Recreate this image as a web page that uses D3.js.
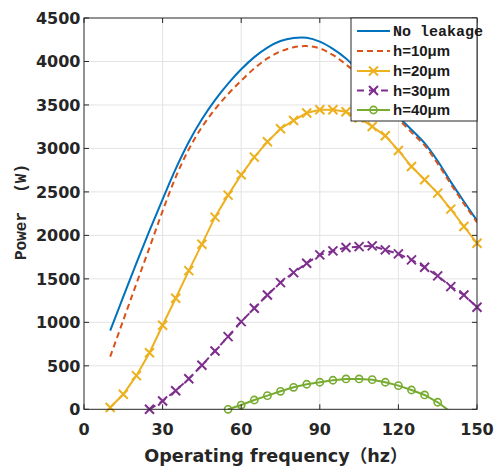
<!DOCTYPE html>
<html>
<head>
<meta charset="utf-8">
<script src="https://cdn.jsdelivr.net/npm/d3@7"></script>
<style>
  html, body { margin: 0; padding: 0; background: #fff; }
  svg { display: block; }
</style>
</head>
<body>
<svg id="chart" width="496" height="466"></svg>
<script>
// Operating frequency (Hz) sample points
const freqFull = [10, 15, 20, 25, 30, 35, 40, 45, 50, 55, 60, 65, 70, 75, 80, 85, 90, 95, 100, 105, 110, 115, 120, 125, 130, 135, 140, 145, 150];
const freq30 = [25, 30, 35, 40, 45, 50, 55, 60, 65, 70, 75, 80, 85, 90, 95, 100, 105, 110, 115, 120, 125, 130, 135, 140, 145, 150];
const freq40 = [55, 60, 65, 70, 75, 80, 85, 90, 95, 100, 105, 110, 115, 120, 125, 130, 135, 140];

// Output power (W) for each leakage gap
const powerNoLeak = [905, 1295, 1680, 2055, 2415, 2765, 3075, 3335, 3555, 3745, 3910, 4050, 4160, 4235, 4270, 4272, 4228, 4145, 4035, 3885, 3720, 3545, 3365, 3215, 3060, 2855, 2615, 2390, 2170];
const powerH10 = [605, 1025, 1445, 1860, 2280, 2670, 2990, 3245, 3450, 3625, 3780, 3920, 4035, 4115, 4163, 4177, 4150, 4075, 3965, 3840, 3685, 3515, 3340, 3185, 3035, 2825, 2590, 2365, 2150];
const powerH20 = [20, 173, 387, 651, 967, 1277, 1595, 1899, 2210, 2463, 2697, 2900, 3076, 3226, 3322, 3407, 3445, 3445, 3422, 3350, 3252, 3145, 2977, 2792, 2639, 2486, 2302, 2102, 1910];
const powerH30 = [0, 95, 214, 352, 506, 671, 836, 1008, 1162, 1315, 1457, 1572, 1680, 1776, 1822, 1860, 1871, 1879, 1833, 1787, 1718, 1634, 1534, 1411, 1315, 1174];
const powerH40 = [0, 49, 107, 157, 207, 253, 288, 311, 334, 349, 349, 341, 311, 272, 222, 165, 81, -30];

// Axis ticks
const xTicks = [0, 30, 60, 90, 120, 150];
const yTicks = [0, 500, 1000, 1500, 2000, 2500, 3000, 3500, 4000, 4500];

// Series labels and colours
const seriesNames = ["No leakage", "h=10\u03bcm", "h=20\u03bcm", "h=30\u03bcm", "h=40\u03bcm"];
const seriesColors = ["#0072BD", "#D95319", "#EDB120", "#7E2F8E", "#77AC30"];

(function () {
  const series = [
    { name: seriesNames[0], color: seriesColors[0], x: freqFull, y: powerNoLeak, dash: null, marker: null, smooth: true },
    { name: seriesNames[1], color: seriesColors[1], x: freqFull, y: powerH10, dash: "6,4", marker: null, smooth: true },
    { name: seriesNames[2], color: seriesColors[2], x: freqFull, y: powerH20, dash: null, marker: "x", smooth: false },
    { name: seriesNames[3], color: seriesColors[3], x: freq30, y: powerH30, dash: "7,5", marker: "x", smooth: false },
    { name: seriesNames[4], color: seriesColors[4], x: freq40, y: powerH40, dash: null, marker: "o", smooth: false }
  ];

  const svg = d3.select("#chart");
  const pLeft = 84, pRight = 477, pTop = 18, pBottom = 409.3;

  const x = d3.scaleLinear().domain([0, 150]).range([pLeft, pRight]);
  const y = d3.scaleLinear().domain([0, 4500]).range([pBottom, pTop]);

  function drawMarkers(g, coords, type, color) {
    const r = 4.5;
    coords.forEach(([cx, cy]) => {
      if (type === "x") {
        g.append("path")
          .attr("d", `M${cx - r},${cy - r}L${cx + r},${cy + r}M${cx - r},${cy + r}L${cx + r},${cy - r}`)
          .attr("stroke", color).attr("stroke-width", 2).attr("fill", "none");
      } else {
        g.append("circle").attr("cx", cx).attr("cy", cy).attr("r", 3.6)
          .attr("fill", "none").attr("stroke", color).attr("stroke-width", 1.6);
      }
    });
  }

  // Grid
  const grid = svg.append("g").attr("stroke", "#e3e3e3").attr("stroke-width", 1);
  grid.selectAll("line.gx").data(xTicks.slice(1, -1)).join("line").attr("class", "gx")
    .attr("x1", d => x(d)).attr("x2", d => x(d)).attr("y1", pTop).attr("y2", pBottom);
  grid.selectAll("line.gy").data(yTicks.slice(1, -1)).join("line").attr("class", "gy")
    .attr("x1", pLeft).attr("x2", pRight).attr("y1", d => y(d)).attr("y2", d => y(d));

  // Clip region for curves
  svg.append("clipPath").attr("id", "plotClip")
    .append("rect").attr("x", pLeft).attr("y", pTop).attr("width", pRight - pLeft).attr("height", pBottom - pTop);

  const plot = svg.append("g");
  series.forEach(s => {
    const pts = s.x.map((f, i) => [f, s.y[i]]);
    const line = d3.line().x(d => x(d[0])).y(d => y(d[1]))
      .curve(s.smooth ? d3.curveCatmullRom.alpha(0.5) : d3.curveLinear);
    plot.append("path")
      .attr("clip-path", "url(#plotClip)")
      .attr("d", line(pts))
      .attr("fill", "none")
      .attr("stroke", s.color)
      .attr("stroke-width", 2)
      .attr("stroke-dasharray", s.dash);
    if (s.marker) {
      const visible = pts.filter(d => d[1] >= 0);
      drawMarkers(plot, visible.map(d => [x(d[0]), y(d[1])]), s.marker, s.color);
    }
  });

  // Axes box
  const axisColor = "#262626";
  svg.append("rect").attr("x", pLeft).attr("y", pTop).attr("width", pRight - pLeft).attr("height", pBottom - pTop)
    .attr("fill", "none").attr("stroke", axisColor).attr("stroke-width", 1);

  // Inward tick marks on all four sides
  const tk = svg.append("g").attr("stroke", axisColor).attr("stroke-width", 1);
  xTicks.forEach(t => {
    tk.append("line").attr("x1", x(t)).attr("x2", x(t)).attr("y1", pBottom).attr("y2", pBottom - 5);
    tk.append("line").attr("x1", x(t)).attr("x2", x(t)).attr("y1", pTop).attr("y2", pTop + 5);
  });
  yTicks.forEach(t => {
    tk.append("line").attr("x1", pLeft).attr("x2", pLeft + 5).attr("y1", y(t)).attr("y2", y(t));
    tk.append("line").attr("x1", pRight).attr("x2", pRight - 5).attr("y1", y(t)).attr("y2", y(t));
  });

  // Tick labels
  const tickFont = "'DejaVu Sans', sans-serif";
  svg.append("g").selectAll("text").data(xTicks).join("text")
    .attr("x", d => x(d)).attr("y", 435)
    .attr("text-anchor", "middle")
    .attr("font-family", tickFont).attr("font-weight", "bold").attr("font-size", 16)
    .attr("fill", "#262626")
    .text(d => d);
  svg.append("g").selectAll("text").data(yTicks).join("text")
    .attr("x", 80.5).attr("y", d => y(d) + 6)
    .attr("text-anchor", "end")
    .attr("font-family", tickFont).attr("font-weight", "bold").attr("font-size", 16)
    .attr("fill", "#262626")
    .text(d => d);

  // Axis titles
  svg.append("text")
    .attr("x", 276).attr("y", 462)
    .attr("text-anchor", "middle")
    .attr("font-family", "'DejaVu Sans', 'Noto Sans CJK SC', sans-serif")
    .attr("font-weight", "bold").attr("font-size", 17.6)
    .attr("fill", "#262626")
    .text("Operating frequency\uff08hz\uff09");

  svg.append("text")
    .attr("transform", "translate(26,212) rotate(-90)")
    .attr("text-anchor", "middle")
    .attr("font-family", "'Liberation Mono', 'DejaVu Sans Mono', monospace")
    .attr("font-weight", "bold").attr("font-size", 16)
    .attr("fill", "#262626")
    .style("white-space", "pre")
    .text("Power  (W)");

  // Legend
  const lg = svg.append("g");
  const lgX = 351, lgY = 18, lgW = 126, lgH = 103;
  lg.append("rect").attr("x", lgX).attr("y", lgY).attr("width", lgW).attr("height", lgH)
    .attr("fill", "#fff").attr("stroke", axisColor).attr("stroke-width", 1);
  const rowY = [31, 51, 71, 90.5, 110];
  series.forEach((s, i) => {
    const ry = rowY[i];
    lg.append("line").attr("x1", 357).attr("x2", 390).attr("y1", ry).attr("y2", ry)
      .attr("stroke", s.color).attr("stroke-width", 2).attr("stroke-dasharray", s.dash);
    if (s.marker) drawMarkers(lg, [[373.5, ry]], s.marker, s.color);
    lg.append("text")
      .attr("x", 393).attr("y", ry + 5)
      .attr("font-family", i === 0 ? "'Liberation Mono', monospace" : "'Liberation Sans', sans-serif")
      .attr("font-weight", "bold").attr("font-size", 15)
      .attr("fill", "#1a1a1a")
      .text(s.name);
  });
})();
</script>
</body>
</html>
